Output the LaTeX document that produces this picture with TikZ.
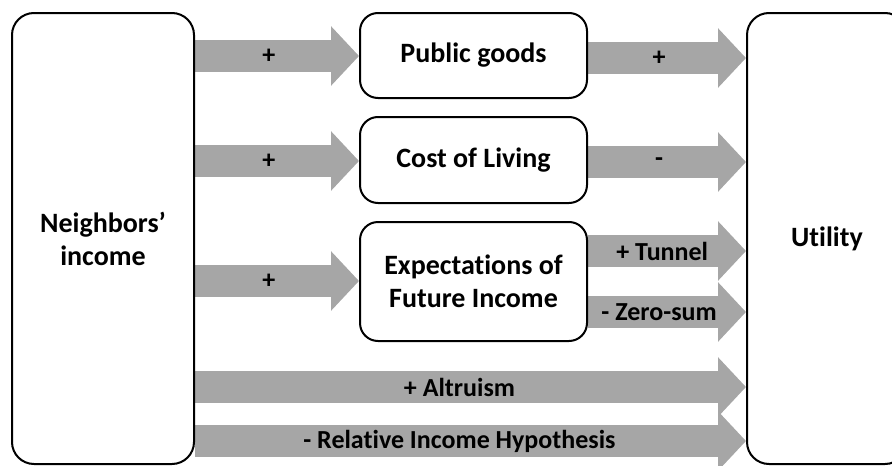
\documentclass[tikz,border=0pt]{standalone}
\usepackage{fontspec}
\setmainfont{Carlito}[Ligatures=NoCommon]
\usetikzlibrary{arrows.meta,backgrounds}
\definecolor{arrowgray}{RGB}{166,166,166}
\tikzset{
  box/.style={draw=black, line width=2pt, fill=white, rounded corners=22pt,
    align=center, inner sep=0pt, font=\fontsize{28}{33}\selectfont\bfseries},
  fat/.style={draw=arrowgray, line width=32pt,
    -{Triangle[length=28pt,width=58pt]}},
  lbl/.style={font=\fontsize{26}{30}\selectfont\bfseries, text=black}
}
\begin{document}
\begin{tikzpicture}[x=1pt,y=-1pt]
\useasboundingbox (0,0) rectangle (892,466);
\clip (0,0) rectangle (892,466);
\node[box, minimum width=182pt, minimum height=451pt] (nb) at (103,238.5) {Neighbors’\\income};
\node[box, minimum width=160pt, minimum height=451pt] (ut) at (827,238.5) {Utility};
\node[box, minimum width=227pt, minimum height=85pt, rounded corners=18pt] (pg) at (473.5,55.5) {Public goods};
\node[box, minimum width=227pt, minimum height=86pt, rounded corners=18pt] (cl) at (473.5,160) {Cost of Living};
\node[box, minimum width=227pt, minimum height=119pt, rounded corners=18pt] (ex) at (473.5,281.5) {Expectations of\\Future Income};
\begin{scope}[on background layer]
\draw[fat] (nb.east |- 0,56) -- (pg.west |- 0,56) node[lbl, pos=0.45] {+};
\draw[fat] (nb.east |- 0,161) -- (cl.west |- 0,161) node[lbl, pos=0.45] {+};
\draw[fat] (nb.east |- 0,281) -- (ex.west |- 0,281) node[lbl, pos=0.45] {+};
\draw[fat] (pg.east |- 0,58) -- (ut.west |- 0,58) node[lbl, pos=0.45] {+};
\draw[fat] (cl.east |- 0,162) -- (ut.west |- 0,162) node[lbl, pos=0.45] {-};
\draw[fat] (ex.east |- 0,251) -- (ut.west |- 0,251) node[lbl, pos=0.47] {+ Tunnel};
\draw[fat] (ex.east |- 0,312) -- (ut.west |- 0,312) node[lbl, pos=0.45] {- Zero-sum};
\draw[fat] (nb.east |- 0,387) -- (ut.west |- 0,387) node[lbl, pos=0.48] {+ Altruism};
\draw[fat] (nb.east |- 0,441) -- (ut.west |- 0,441) node[lbl, pos=0.48] {- Relative Income Hypothesis};
\end{scope}
\end{tikzpicture}
\end{document}
